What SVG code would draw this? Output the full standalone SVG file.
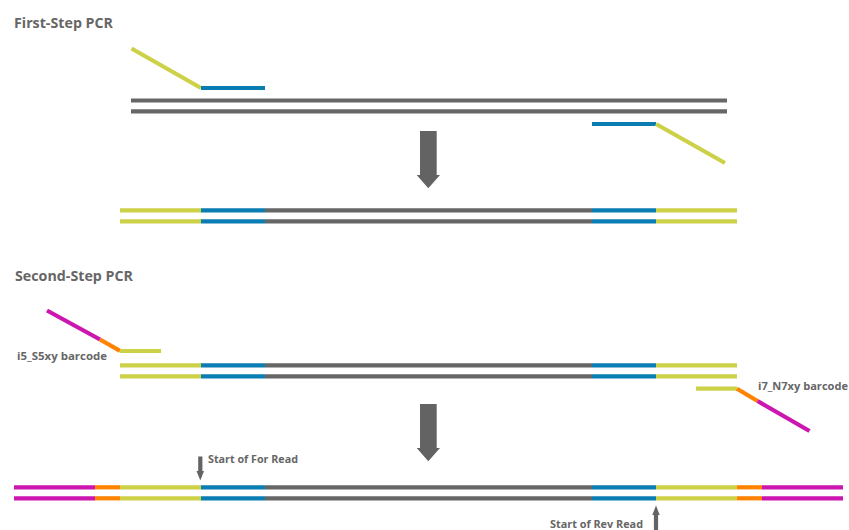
<svg xmlns="http://www.w3.org/2000/svg" width="849" height="530" viewBox="0 0 849 530">
<style>
.t{font-family:"Open Sans","Liberation Sans",sans-serif;font-weight:bold;fill:#666666}
.h{font-size:14px}
.l{font-size:11px}
line,polyline{stroke-width:4.2;fill:none}
.g{stroke:#666666}
.y{stroke:#cdd147}
.b{stroke:#0a7db2}
.m{stroke:#cc16b0}
.o{stroke:#ff8200}
.arrow{fill:#636363}
</style>
<rect width="849" height="530" fill="#ffffff"/>
<g id="title1"><text class="t h" x="14" y="28" textLength="99" lengthAdjust="spacingAndGlyphs">First-Step PCR</text></g>
<g id="template1">
<line class="g" x1="131" y1="100.5" x2="727" y2="100.5"/>
<line class="g" x1="131" y1="111.3" x2="727" y2="111.3"/>
</g>
<g id="fwdPrimer1">
<line class="y" x1="131.5" y1="48.5" x2="201" y2="88"/>
<line class="b" x1="201" y1="88" x2="265" y2="88"/>
</g>
<g id="revPrimer1">
<line class="b" x1="592" y1="124" x2="656" y2="124"/>
<line class="y" x1="656" y1="124" x2="725" y2="163"/>
</g>
<g id="arrow1"><polygon class="arrow" points="420,131 436.7,131 436.7,175 440,175 428.3,188.3 416.7,175 420,175"/></g>
<g id="product1">
<line class="y" x1="120" y1="210.3" x2="201" y2="210.3"/>
<line class="b" x1="201" y1="210.3" x2="265" y2="210.3"/>
<line class="g" x1="265" y1="210.3" x2="592" y2="210.3"/>
<line class="b" x1="592" y1="210.3" x2="656" y2="210.3"/>
<line class="y" x1="656" y1="210.3" x2="737" y2="210.3"/>
<line class="y" x1="120" y1="221.3" x2="201" y2="221.3"/>
<line class="b" x1="201" y1="221.3" x2="265" y2="221.3"/>
<line class="g" x1="265" y1="221.3" x2="592" y2="221.3"/>
<line class="b" x1="592" y1="221.3" x2="656" y2="221.3"/>
<line class="y" x1="656" y1="221.3" x2="737" y2="221.3"/>
</g>
<g id="title2"><text class="t h" x="15" y="281" textLength="118" lengthAdjust="spacingAndGlyphs">Second-Step PCR</text></g>
<g id="i5Primer">
<line class="m" x1="47" y1="310.5" x2="100" y2="339.5"/>
<line class="o" x1="100" y1="339.5" x2="120" y2="350.8"/>
<line class="y" x1="120" y1="351" x2="161" y2="351"/>
<text class="t l" x="17" y="360" textLength="90" lengthAdjust="spacingAndGlyphs">i5_S5xy barcode</text>
</g>
<g id="template2">
<line class="y" x1="120" y1="365.3" x2="201" y2="365.3"/>
<line class="b" x1="201" y1="365.3" x2="265" y2="365.3"/>
<line class="g" x1="265" y1="365.3" x2="592" y2="365.3"/>
<line class="b" x1="592" y1="365.3" x2="656" y2="365.3"/>
<line class="y" x1="656" y1="365.3" x2="737" y2="365.3"/>
<line class="y" x1="120" y1="376.3" x2="201" y2="376.3"/>
<line class="b" x1="201" y1="376.3" x2="265" y2="376.3"/>
<line class="g" x1="265" y1="376.3" x2="592" y2="376.3"/>
<line class="b" x1="592" y1="376.3" x2="656" y2="376.3"/>
<line class="y" x1="656" y1="376.3" x2="737" y2="376.3"/>
</g>
<g id="i7Primer">
<line class="y" x1="696" y1="388.7" x2="737" y2="388.7"/>
<line class="o" x1="737" y1="388.7" x2="757.5" y2="401"/>
<line class="m" x1="757.5" y1="401" x2="809.5" y2="431"/>
<text class="t l" x="758" y="390" textLength="90" lengthAdjust="spacingAndGlyphs">i7_N7xy barcode</text>
</g>
<g id="arrow2"><polygon class="arrow" points="420,404 436.7,404 436.7,448 440,448 428.3,461.3 416.7,448 420,448"/></g>
<g id="product2">
<line class="m" x1="14" y1="487.3" x2="95" y2="487.3"/>
<line class="o" x1="95" y1="487.3" x2="120" y2="487.3"/>
<line class="y" x1="120" y1="487.3" x2="201" y2="487.3"/>
<line class="b" x1="201" y1="487.3" x2="265" y2="487.3"/>
<line class="g" x1="265" y1="487.3" x2="592" y2="487.3"/>
<line class="b" x1="592" y1="487.3" x2="656" y2="487.3"/>
<line class="y" x1="656" y1="487.3" x2="737" y2="487.3"/>
<line class="o" x1="737" y1="487.3" x2="762" y2="487.3"/>
<line class="m" x1="762" y1="487.3" x2="843" y2="487.3"/>
<line class="m" x1="14" y1="498.3" x2="95" y2="498.3"/>
<line class="o" x1="95" y1="498.3" x2="120" y2="498.3"/>
<line class="y" x1="120" y1="498.3" x2="201" y2="498.3"/>
<line class="b" x1="201" y1="498.3" x2="265" y2="498.3"/>
<line class="g" x1="265" y1="498.3" x2="592" y2="498.3"/>
<line class="b" x1="592" y1="498.3" x2="656" y2="498.3"/>
<line class="y" x1="656" y1="498.3" x2="737" y2="498.3"/>
<line class="o" x1="737" y1="498.3" x2="762" y2="498.3"/>
<line class="m" x1="762" y1="498.3" x2="843" y2="498.3"/>
</g>
<g id="forRead">
<line x1="200.3" y1="456.5" x2="200.3" y2="472" stroke="#636363" stroke-width="1.4"/>
<polygon class="arrow" points="196.5,471 204,471 200.3,480.5"/>
<text class="t l" x="208" y="463" textLength="90" lengthAdjust="spacingAndGlyphs">Start of For Read</text>
</g>
<g id="revRead">
<line x1="656" y1="514" x2="656" y2="530" stroke="#636363" stroke-width="1.4"/>
<polygon class="arrow" points="652.3,515 659.7,515 656,505.5"/>
<text class="t l" x="550" y="528" textLength="93" lengthAdjust="spacingAndGlyphs">Start of Rev Read</text>
</g>
</svg>
